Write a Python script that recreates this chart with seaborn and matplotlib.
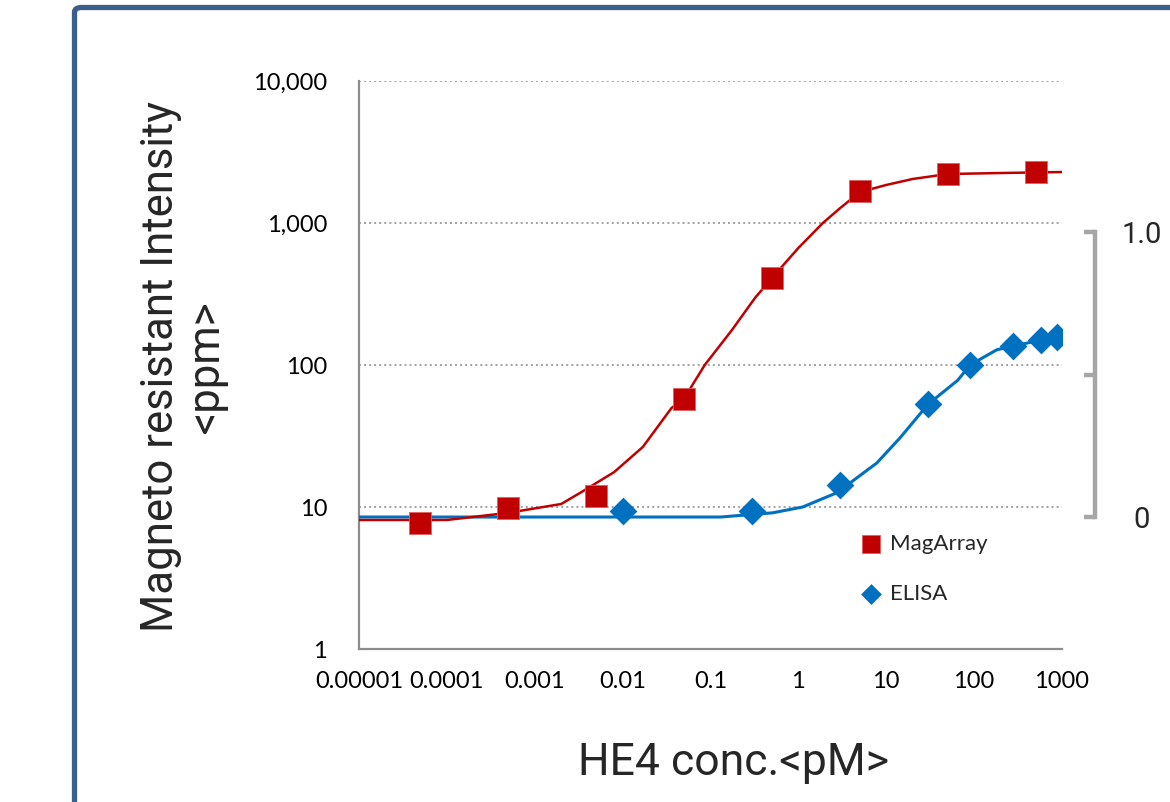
import numpy as np
import pandas as pd
import matplotlib
matplotlib.use("Agg")
import matplotlib.pyplot as plt
import seaborn as sns
from matplotlib.patches import FancyBboxPatch
from matplotlib.ticker import LogLocator, NullFormatter

# ---- measured points -------------------------------------------------------
mag_conc = [5e-5, 5e-4, 5e-3, 0.05, 0.5, 5, 50, 500]
mag_signal = [7.7, 9.8, 11.9, 57.6, 410, 1680, 2210, 2290]

elisa_conc = [0.01, 0.3, 3, 30, 90, 280, 580, 880]
elisa_signal = [9.4, 9.4, 14.3, 53, 100, 136, 150, 157]

# ---- fitted standard curves ------------------------------------------------
mag_fit_conc = [1e-5, 1e-4, 5e-4, 2e-3, 3.3e-3, 8e-3, 0.017, 0.036, 0.05, 0.086,
                0.175, 0.32, 0.5, 1.0, 1.9, 3.0, 5, 10, 20, 50, 200, 1000]
mag_fit_signal = [8.1, 8.1, 9.1, 10.5, 12.6, 17.6, 26.5, 49.8, 58, 100,
                  176, 296, 410, 667, 1000, 1276, 1650, 1853, 2042, 2213, 2249, 2286]

elisa_fit_conc = [1e-5, 0.01, 0.13, 0.51, 1.12, 2.74, 7.8, 14.3, 30, 65, 90,
                  181, 280, 580, 880]
elisa_fit_signal = [8.5, 8.5, 8.5, 9.1, 10.0, 12.6, 20.4, 30.6, 53, 78, 100,
                    128, 136, 150, 157]

# ---- axis labels -----------------------------------------------------------
x_tick_values = [1e-5, 1e-4, 1e-3, 1e-2, 1e-1, 1, 10, 100, 1000]
x_tick_labels = ["0.00001", "0.0001", "0.001", "0.01", "0.1", "1", "10", "100", "1000"]
y_tick_values = [1, 10, 100, 1000, 10000]
y_tick_labels = ["1", "10", "100", "1,000", "10,000"]
x_title = "HE4 conc.<pM>"
y_title = "Magneto resistant Intensity\n<ppm>"
rel_tick_values = [0, 0.5, 1.0]
rel_tick_labels = ["0", "", "1.0"]
series_names = ["MagArray", "ELISA"]

RED = "#C00000"
BLUE = "#0070C0"
AXIS_GRAY = "#8C8C8C"

sns.set_style("white")
plt.rcParams["font.family"] = ["Lato", "DejaVu Sans"]

W, H = 1170, 802
fig = plt.figure(figsize=(W / 100, H / 100), dpi=100)


def fx(px):
    return px / W


def fy(py):
    return 1 - py / H


# rounded blue frame around the panel
frame = FancyBboxPatch((fx(74.5), fy(900)), fx(1300) - fx(74.5), fy(7.5) - fy(900),
                       boxstyle="round,pad=0,rounding_size=0.006",
                       transform=fig.transFigure, fill=False,
                       edgecolor="#3B5E8C", linewidth=3.8, zorder=0)
fig.add_artist(frame)

ax = fig.add_axes([fx(359), fy(649), fx(1062) - fx(359), fy(81) - fy(649)])

mag_fit = pd.DataFrame({"conc": mag_fit_conc, "signal": mag_fit_signal})
elisa_fit = pd.DataFrame({"conc": elisa_fit_conc, "signal": elisa_fit_signal})
mag_pts = pd.DataFrame({"conc": mag_conc, "signal": mag_signal})
elisa_pts = pd.DataFrame({"conc": elisa_conc, "signal": elisa_signal})

ax.set_xscale("log")
ax.set_yscale("log")

sns.lineplot(data=elisa_fit, x="conc", y="signal", ax=ax, color=BLUE,
             linewidth=2.2, legend=False, zorder=3, sort=True)
sns.lineplot(data=mag_fit, x="conc", y="signal", ax=ax, color=RED,
             linewidth=1.8, legend=False, zorder=3, sort=True)
sns.scatterplot(data=elisa_pts, x="conc", y="signal", ax=ax, color=BLUE,
                marker="D", s=200, linewidth=0, zorder=4, label=series_names[1])
sns.scatterplot(data=mag_pts, x="conc", y="signal", ax=ax, color=RED,
                marker="s", s=270, linewidth=0.6, edgecolor="#E06060",
                zorder=5, label=series_names[0])

ax.set_xlim(1e-5, 1000)
ax.set_ylim(1, 10000)

for side in ("top", "right"):
    ax.spines[side].set_visible(False)
for side in ("left", "bottom"):
    ax.spines[side].set_color(AXIS_GRAY)
    ax.spines[side].set_linewidth(1.6)

ax.set_xticks(x_tick_values)
ax.set_xticklabels(x_tick_labels)
ax.xaxis.set_minor_locator(LogLocator(base=10, subs=np.arange(2, 10)))
ax.xaxis.set_minor_formatter(NullFormatter())

ax.set_yticks(y_tick_values)
ax.set_yticklabels(y_tick_labels)
ax.yaxis.set_minor_locator(LogLocator(base=10, subs=np.arange(2, 10)))
ax.yaxis.set_minor_formatter(NullFormatter())

ax.tick_params(axis="both", which="major", direction="in", length=6, width=1.6,
               color=AXIS_GRAY, labelsize=17, labelcolor="black")
ax.tick_params(axis="both", which="minor", direction="in", length=4.5, width=1.2,
               color=AXIS_GRAY)
ax.tick_params(axis="x", which="major", pad=16)
ax.tick_params(axis="y", which="major", pad=23)

ax.grid(False)
for v in y_tick_values[1:]:
    ax.axhline(v, color="#A0A0A0", linewidth=1.4, linestyle=(0, (1, 1.6)), zorder=1)

ax.set_xlabel("")
ax.set_ylabel("")

# axis titles
title_font = ["Roboto", "Liberation Sans", "DejaVu Sans"]
fig.text(fx(184), fy(367), y_title, rotation=90, ha="center", va="center",
         fontsize=31.5, family=title_font, linespacing=1.1)
fig.text(fx(733), fy(763), x_title, ha="center", va="center",
         fontsize=32, family=title_font)

handles, labels = ax.get_legend_handles_labels()
order = [labels.index(n) for n in series_names]
leg = ax.legend([handles[i] for i in order], [labels[i] for i in order],
                loc="upper left", bbox_to_anchor=(fx(860), fy(534)),
                bbox_transform=fig.transFigure, frameon=False, fontsize=16,
                handlelength=1.0, handletextpad=0.35, labelspacing=1.35,
                borderpad=0, borderaxespad=0, markerscale=0.75)

# relative-scale bracket on the right
axr = fig.add_axes([fx(1095), fy(517), fx(1096) - fx(1095), fy(232) - fy(517)])
axr.set_ylim(0, 1)
axr.set_xlim(0, 1)
axr.patch.set_alpha(0)
for side in ("top", "right", "bottom"):
    axr.spines[side].set_visible(False)
axr.spines["left"].set_color("#A6A6A6")
axr.spines["left"].set_linewidth(3.2)
axr.set_xticks([])
axr.set_yticks(rel_tick_values)
axr.set_yticklabels(rel_tick_labels)
axr.tick_params(axis="y", left=True, right=False, labelleft=False, labelright=True,
                direction="out", length=8, width=3.2, color="#A6A6A6",
                labelsize=21, pad=25)
for lbl in axr.get_yticklabels():
    lbl.set_family(title_font)
    lbl.set_horizontalalignment("center")
axr.grid(False)

fig.savefig("out.png", dpi=100)
